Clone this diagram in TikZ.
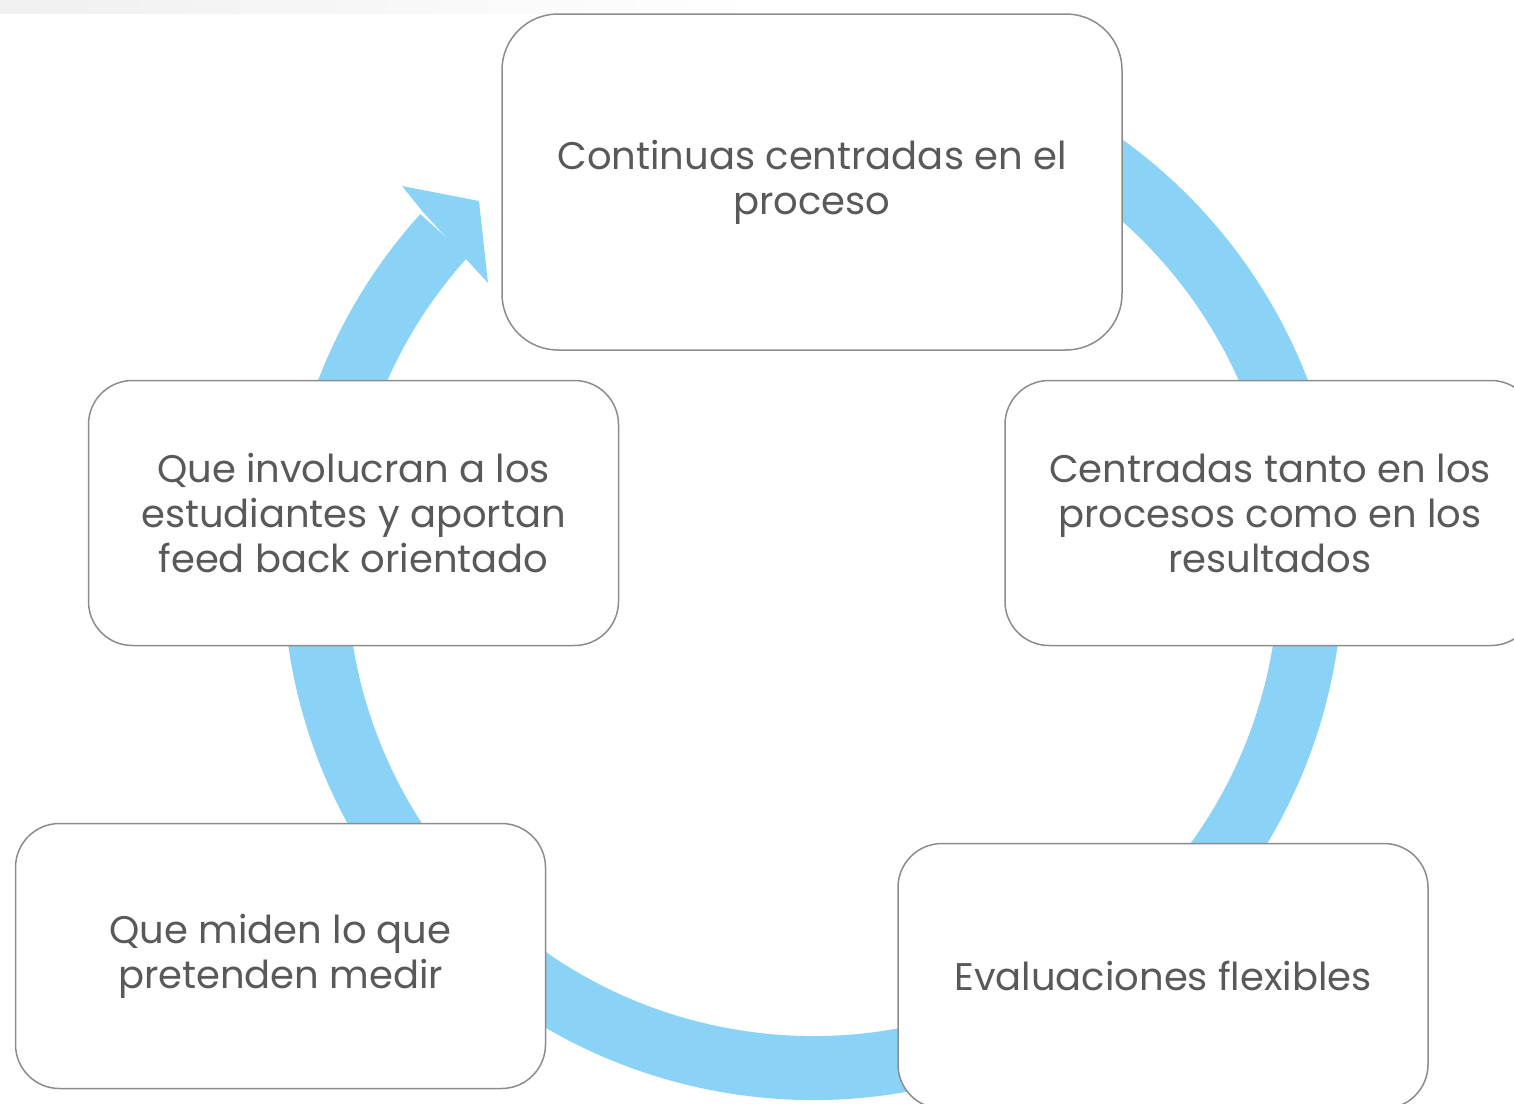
\documentclass[tikz,border=0pt]{standalone}
\usepackage{fontspec}
\setmainfont{Poppins}
\definecolor{ringblue}{HTML}{8BD3F6}
\definecolor{boxgray}{HTML}{8C8C8C}
\definecolor{txtgray}{HTML}{595959}
\begin{document}
\begin{tikzpicture}[x=1pt,y=-1pt,
  box/.style={draw=boxgray, line width=1.5pt, fill=white, rounded corners=44pt,
    minimum width=530pt, minimum height=265pt, inner sep=0pt, align=center,
    text=txtgray, font=\fontsize{38.5}{45}\selectfont},
  ring/.style={draw=ringblue, line width=64pt},
  head/.style={fill=ringblue}]
\useasboundingbox (0,0) rectangle (1514,1103);
\clip (0,0) rectangle (1514,1103);
\fill[white] (0,0) rectangle (1514,1103);
\shade[left color=black!6, right color=white] (0,0) rectangle (760,13);
\coordinate (c) at (813,570);
\draw[ring] (c) ++(280:498) arc[start angle=280, end angle=582.2, radius=498];
\fill[head] (423,212) -- (402,186) -- (479,201) -- (488,283) -- (466,259) -- cycle;
\node[box, minimum width=620pt, minimum height=336pt, rounded corners=56pt] (b1) at (812,182)
  {Continuas centradas en el\\proceso};
\node[box] (b2) at (1270,513) {Centradas tanto en los\\procesos como en los\\resultados};
\node[box] (b3) at (1163,976) {Evaluaciones flexibles};
\node[box] (b4) at (280.5,956) {Que miden lo que\\pretenden medir};
\node[box] (b5) at (353.5,513) {Que involucran a los\\estudiantes y aportan\\feed back orientado};
\end{tikzpicture}
\end{document}
